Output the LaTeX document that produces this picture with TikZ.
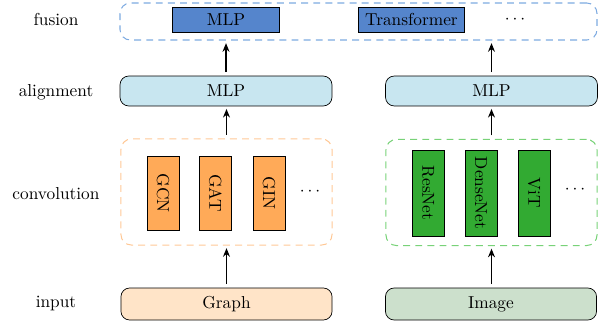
\documentclass[tikz,border=0pt]{standalone}
\usetikzlibrary{arrows.meta}
\definecolor{fuseblue}{RGB}{85,133,204}
\definecolor{fuseborder}{RGB}{125,170,225}
\definecolor{alignfill}{RGB}{200,230,240}
\definecolor{convorange}{RGB}{255,170,88}
\definecolor{orangeborder}{RGB}{255,200,150}
\definecolor{convgreen}{RGB}{50,170,50}
\definecolor{greenborder}{RGB}{120,210,120}
\definecolor{graphfill}{RGB}{255,228,200}
\definecolor{imagefill}{RGB}{204,224,204}
\tikzset{
  rowlabel/.style={inner sep=0pt},
  dashbox/.style={draw, dashed, rounded corners=6pt, line width=0.6pt, dash pattern=on 4pt off 3pt},
  fusebox/.style={draw, fill=fuseblue, minimum width=61.5pt, minimum height=14.5pt, inner sep=0pt},
  alignbox/.style={draw, fill=alignfill, rounded corners=5pt, minimum width=122.5pt, minimum height=17.3pt, inner sep=0pt},
  inbox/.style={draw, rounded corners=5pt, minimum width=122pt, minimum height=18.5pt, inner sep=0pt},
  convbox/.style={draw, rotate=-90, minimum height=18.5pt, inner sep=0pt},
  flow/.style={-{Stealth[length=5pt,width=4pt]}, line width=1pt, shorten <=2pt, shorten >=1.5pt}
}
\begin{document}
\begin{tikzpicture}[x=0.578pt, y=-0.578pt]
\useasboundingbox (0,0) rectangle (602,325);
% row labels
\node[rowlabel] (lfusion) at (56,19) {fusion};
\node[rowlabel] (lalign) at (56,92) {alignment};
\node[rowlabel] (lconv) at (56,194) {convolution};
\node[rowlabel] (linput) at (56,303) {input};
% fusion
\node[dashbox, draw=fuseborder, minimum width=275.7pt, minimum height=21.4pt] (fusion) at (358.5,21.5) {};
\node[fusebox] (fmlp) at (226,19.5) {MLP};
\node[fusebox] (ftrans) at (411.5,19.5) {Transformer};
\node (fdots) at (515,20) {$\cdots$};
% alignment
\node[alignbox] (amlpL) at (226,91) {MLP};
\node[alignbox] (amlpR) at (491.5,91) {MLP};
% convolution
\node[dashbox, draw=orangeborder, minimum width=122pt, minimum height=61.3pt] (convL) at (226.5,192) {};
\node[dashbox, draw=greenborder, minimum width=122pt, minimum height=61.3pt] (convR) at (491.5,192.5) {};
\node[convbox, fill=convorange, minimum width=42.8pt] (gcn) at (163,193) {GCN};
\node[convbox, fill=convorange, minimum width=42.8pt] (gat) at (215.5,193) {GAT};
\node[convbox, fill=convorange, minimum width=42.8pt] (gin) at (269,193) {GIN};
\node (ldots) at (310,192) {$\cdots$};
\node[convbox, fill=convgreen, minimum width=49.7pt] (resnet) at (428,193) {ResNet};
\node[convbox, fill=convgreen, minimum width=49.7pt] (densenet) at (481,193) {DenseNet};
\node[convbox, fill=convgreen, minimum width=49.7pt] (vit) at (534,193) {ViT};
\node (rdots) at (575,190) {$\cdots$};
% input
\node[inbox, fill=graphfill] (graph) at (226.5,304) {Graph};
\node[inbox, fill=imagefill] (image) at (491,304) {Image};
% arrows
\draw[flow] (graph.north -| convL.south) -- (convL.south);
\draw[flow] (image.north -| convR.south) -- (convR.south);
\draw[flow] (convL.north) -- (convL.north |- amlpL.south);
\draw[flow] (convR.north) -- (convR.north |- amlpR.south);
\draw[flow] (amlpL.north) -- (amlpL.north |- fusion.south);
\draw[flow] (amlpR.north) -- (amlpR.north |- fusion.south);
\end{tikzpicture}
\end{document}
